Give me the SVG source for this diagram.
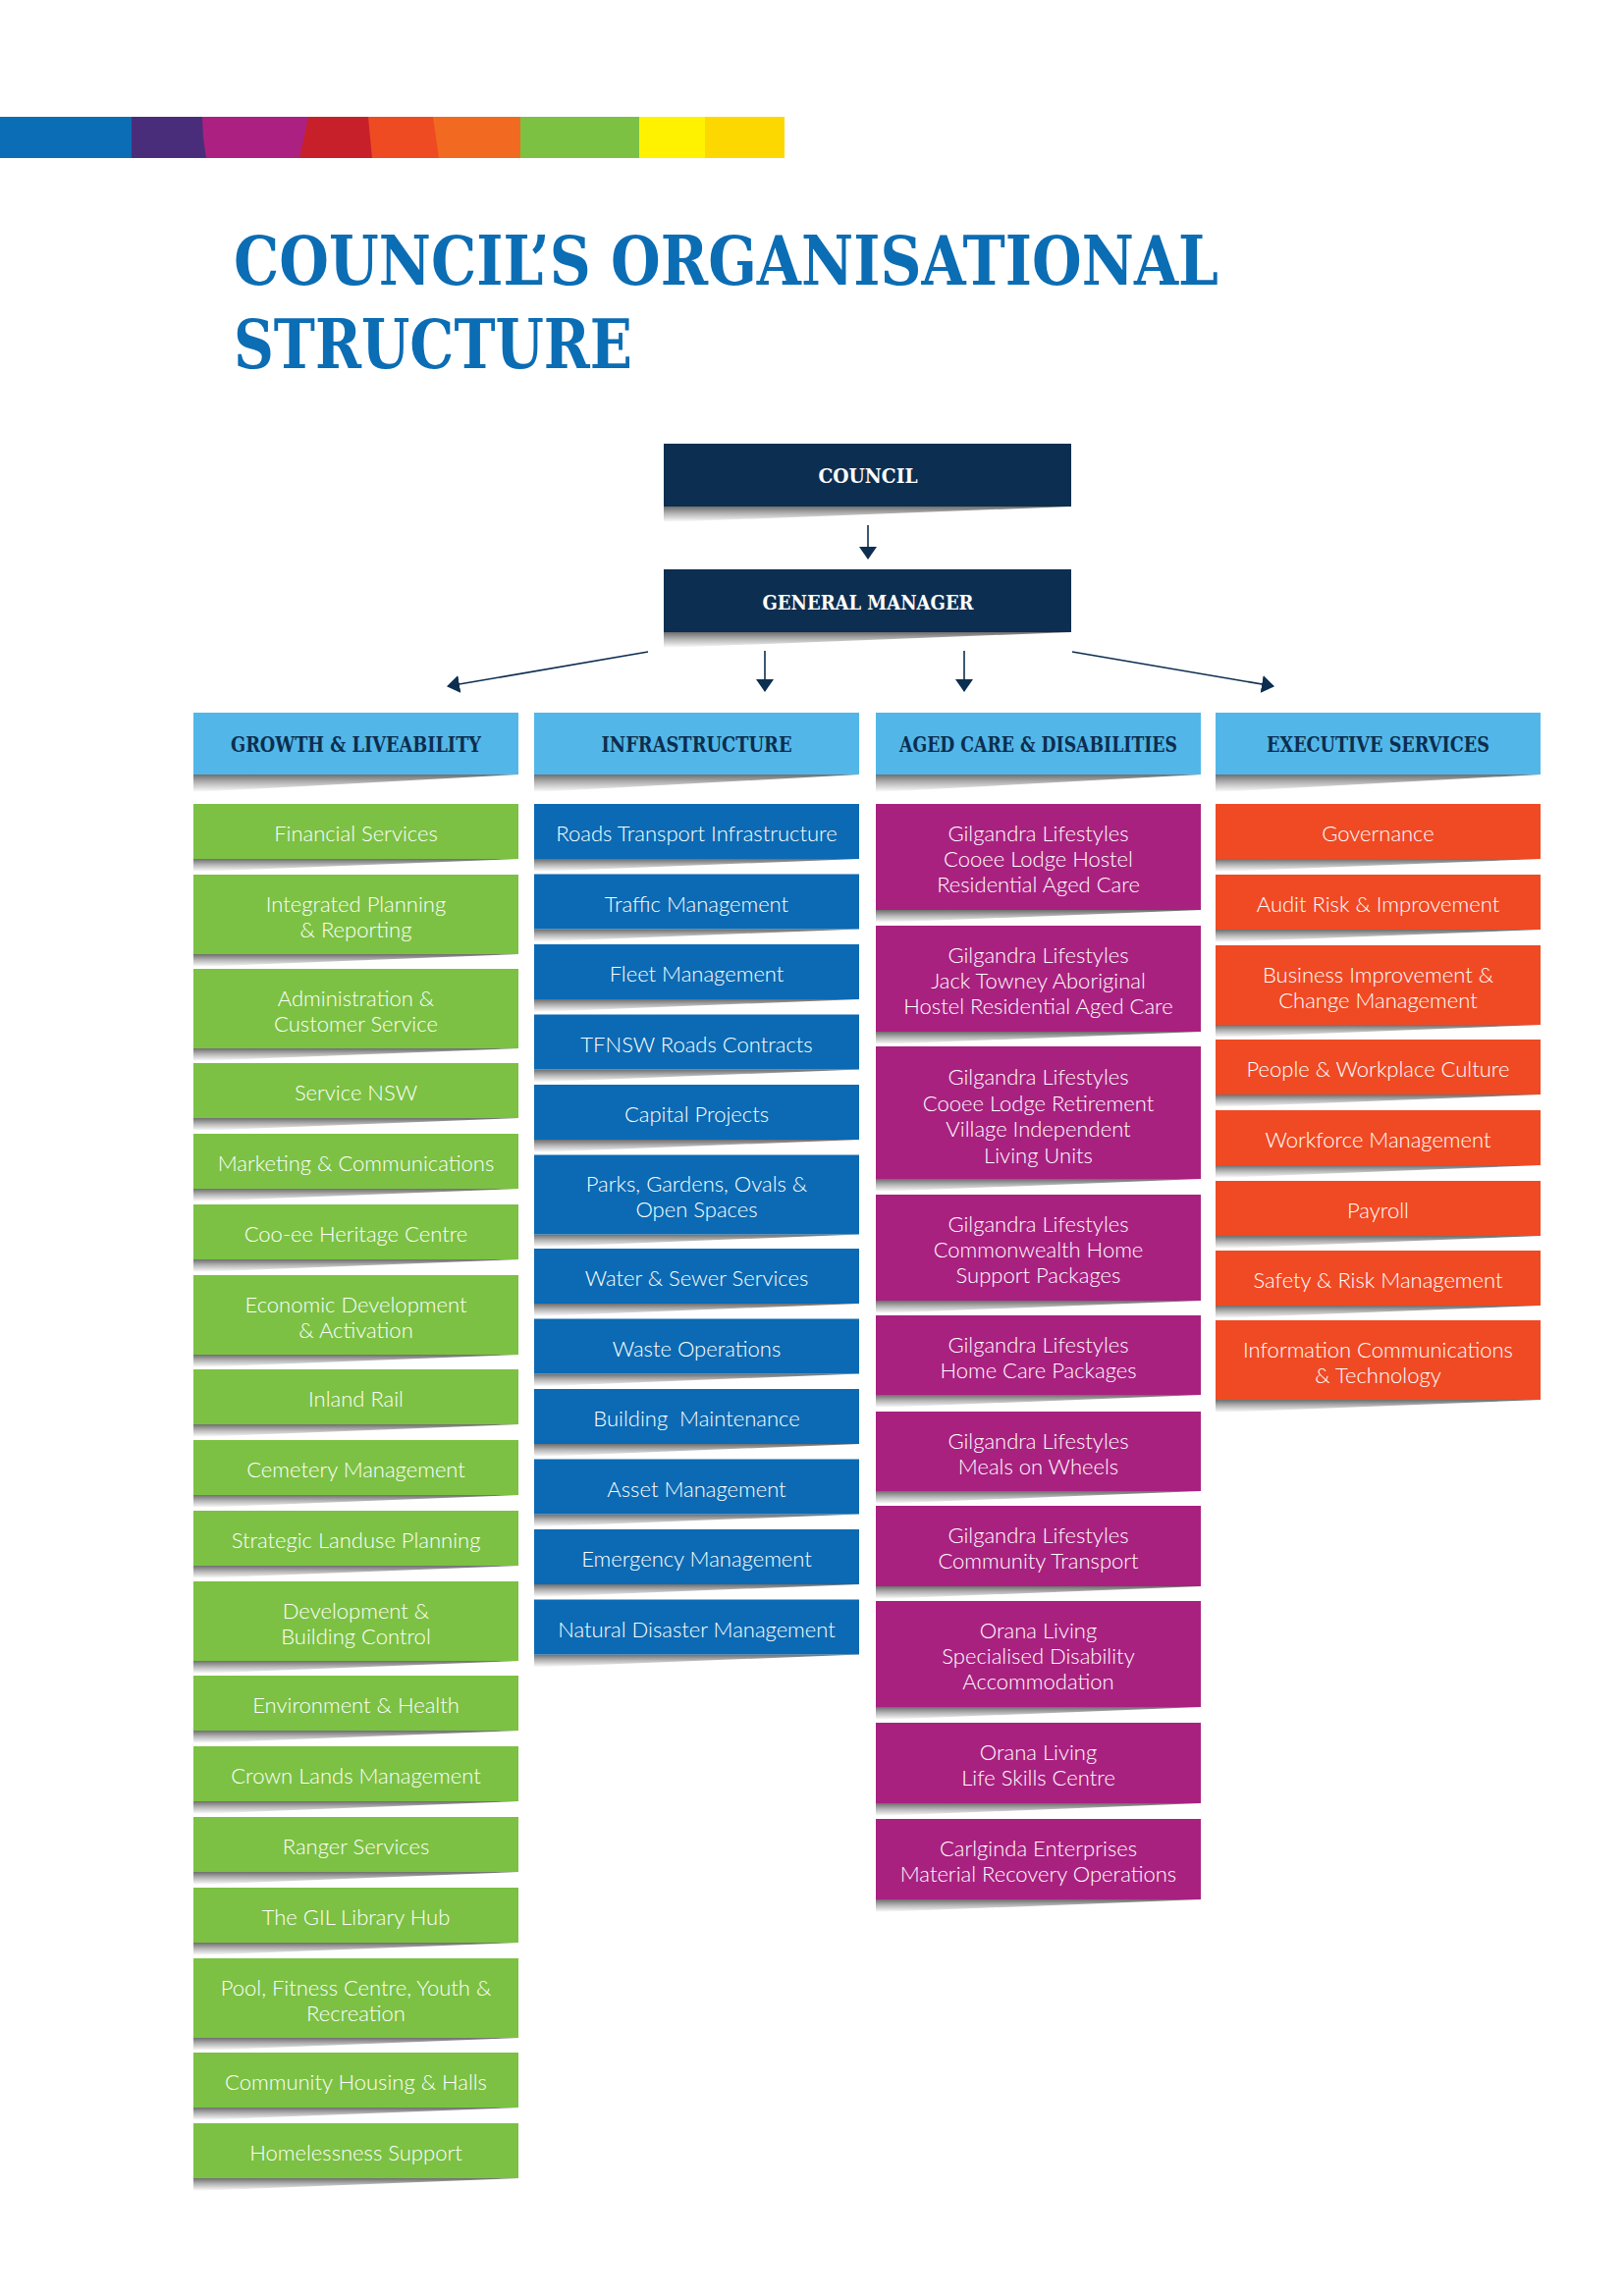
<svg xmlns="http://www.w3.org/2000/svg" width="1654" height="2339" viewBox="0 0 1654 2339">
<defs>
<linearGradient id="sh" x1="0" y1="0" x2="0" y2="1">
<stop offset="0" stop-color="#6e6e6e"/>
<stop offset="0.45" stop-color="#b5b5b5"/>
<stop offset="1" stop-color="#ffffff"/>
</linearGradient>
<marker id="ah" viewBox="0 0 13 18" refX="12" refY="9" markerWidth="13" markerHeight="18" markerUnits="userSpaceOnUse" orient="auto">
<path d="M0,0 L13,9 L0,18 Z" fill="#0c2e50"/>
</marker>
<style>
.g{fill:#7cc143}.b{fill:#0b6ab3}.m{fill:#a9217f}.o{fill:#ef4a24}.h{fill:#52b7e8}.n{fill:#0c2e50}
.s{fill:url(#sh)}
.t{font-family:Lato,"Open Sans","DejaVu Sans",sans-serif;font-weight:300;font-size:22px;fill:#ffffff;text-anchor:middle}
.ht{font-family:"DejaVu Serif","Liberation Serif",serif;font-weight:bold;font-size:23px;fill:#0c2e50;text-anchor:middle}
.nt{font-family:"DejaVu Serif","Liberation Serif",serif;font-weight:bold;font-size:21px;fill:#ffffff;text-anchor:middle}
.ttl{font-family:"DejaVu Serif","Liberation Serif",serif;font-weight:bold;font-size:70px;fill:#0b6db4}
.c{stroke:#0c2e50;stroke-width:1.6;fill:none;marker-end:url(#ah)}
</style>
</defs>
<rect width="1654" height="2339" fill="#ffffff"/>

<g id="colour-bar">
<rect x="0" y="119" width="136" height="42" fill="#0a6db5"/>
<polygon points="134,119 212,119 208,140 211,161 134,161" fill="#4a2d7a"/>
<polygon points="206,119 316,119 306,161 210,161 207,140" fill="#ac2082"/>
<polygon points="314,119 377,119 380,161 305,161" fill="#c8202a"/>
<polygon points="375,119 443,119 448,161 379,161" fill="#ee4b23"/>
<polygon points="441,119 531,119 530,161 447,161" fill="#f26a21"/>
<rect x="530" y="119" width="122" height="42" fill="#7dc142"/>
<rect x="651" y="119" width="68" height="42" fill="#fff200"/>
<rect x="718" y="119" width="81" height="42" fill="#fcd800"/>
</g>

<g id="title">
<text class="ttl" x="238" y="290" textLength="1003" lengthAdjust="spacingAndGlyphs">COUNCIL’S ORGANISATIONAL</text>
<text class="ttl" x="238" y="375" textLength="406" lengthAdjust="spacingAndGlyphs">STRUCTURE</text>
</g>

<g id="connectors">
<line class="c" x1="884" y1="535" x2="884" y2="569"/>
<line class="c" x1="779" y1="663" x2="779" y2="704"/>
<line class="c" x1="982" y1="663" x2="982" y2="704"/>
<line class="c" x1="660" y1="664" x2="456" y2="699"/>
<line class="c" x1="1092" y1="664" x2="1297" y2="699"/>
</g>

<g id="council">
<polygon class="s" points="676,516 1091,516 676,532"/>
<rect class="n" x="676" y="452" width="415" height="64"/>
<text class="nt" x="884" y="492" textLength="101" lengthAdjust="spacingAndGlyphs">COUNCIL</text>
</g>
<g id="general-manager">
<polygon class="s" points="676,644 1091,644 676,660"/>
<rect class="n" x="676" y="580" width="415" height="64"/>
<text class="nt" x="884" y="621" textLength="215" lengthAdjust="spacingAndGlyphs">GENERAL MANAGER</text>
</g>

<g id="hdr-growth">
<polygon class="s" points="197,789 528,789 197,807"/>
<rect class="h" x="197" y="726" width="331" height="63"/>
<text class="ht" x="362.5" y="766" textLength="255" lengthAdjust="spacingAndGlyphs">GROWTH &amp; LIVEABILITY</text>
</g>
<g id="hdr-infrastructure">
<polygon class="s" points="544,789 875,789 544,807"/>
<rect class="h" x="544" y="726" width="331" height="63"/>
<text class="ht" x="709.5" y="766" textLength="194" lengthAdjust="spacingAndGlyphs">INFRASTRUCTURE</text>
</g>
<g id="hdr-aged-care">
<polygon class="s" points="892,789 1223,789 892,807"/>
<rect class="h" x="892" y="726" width="331" height="63"/>
<text class="ht" x="1057.5" y="766" textLength="283" lengthAdjust="spacingAndGlyphs">AGED CARE &amp; DISABILITIES</text>
</g>
<g id="hdr-executive">
<polygon class="s" points="1238,789 1569,789 1238,807"/>
<rect class="h" x="1238" y="726" width="331" height="63"/>
<text class="ht" x="1403.5" y="766" textLength="227" lengthAdjust="spacingAndGlyphs">EXECUTIVE SERVICES</text>
</g>

<!-- Column 1: Growth & Liveability -->
<g id="g1"><polygon class="s" points="197,875 528,875 197,888"/><rect class="g" x="197" y="819" width="331" height="56"/><text class="t" x="362.5" y="857">Financial Services</text></g>
<g id="g2"><polygon class="s" points="197,972 528,972 197,985"/><rect class="g" x="197" y="891" width="331" height="81"/><text class="t" x="362.5" y="928.5"><tspan x="362.5">Integrated Planning</tspan><tspan x="362.5" dy="26">&amp; Reporting</tspan></text></g>
<g id="g3"><polygon class="s" points="197,1068 528,1068 197,1081"/><rect class="g" x="197" y="987" width="331" height="81"/><text class="t" x="362.5" y="1024.5"><tspan x="362.5">Administration &amp;</tspan><tspan x="362.5" dy="26">Customer Service</tspan></text></g>
<g id="g4"><polygon class="s" points="197,1139 528,1139 197,1152"/><rect class="g" x="197" y="1083" width="331" height="56"/><text class="t" x="362.5" y="1121">Service NSW</text></g>
<g id="g5"><polygon class="s" points="197,1211 528,1211 197,1224"/><rect class="g" x="197" y="1155" width="331" height="56"/><text class="t" x="362.5" y="1193">Marketing &amp; Communications</text></g>
<g id="g6"><polygon class="s" points="197,1283 528,1283 197,1296"/><rect class="g" x="197" y="1227" width="331" height="56"/><text class="t" x="362.5" y="1265">Coo-ee Heritage Centre</text></g>
<g id="g7"><polygon class="s" points="197,1380 528,1380 197,1393"/><rect class="g" x="197" y="1299" width="331" height="81"/><text class="t" x="362.5" y="1336.5"><tspan x="362.5">Economic Development</tspan><tspan x="362.5" dy="26">&amp; Activation</tspan></text></g>
<g id="g8"><polygon class="s" points="197,1451 528,1451 197,1464"/><rect class="g" x="197" y="1395" width="331" height="56"/><text class="t" x="362.5" y="1433">Inland Rail</text></g>
<g id="g9"><polygon class="s" points="197,1523 528,1523 197,1536"/><rect class="g" x="197" y="1467" width="331" height="56"/><text class="t" x="362.5" y="1505">Cemetery Management</text></g>
<g id="g10"><polygon class="s" points="197,1595 528,1595 197,1608"/><rect class="g" x="197" y="1539" width="331" height="56"/><text class="t" x="362.5" y="1577">Strategic Landuse Planning</text></g>
<g id="g11"><polygon class="s" points="197,1692 528,1692 197,1705"/><rect class="g" x="197" y="1611" width="331" height="81"/><text class="t" x="362.5" y="1648.5"><tspan x="362.5">Development &amp;</tspan><tspan x="362.5" dy="26">Building Control</tspan></text></g>
<g id="g12"><polygon class="s" points="197,1763 528,1763 197,1776"/><rect class="g" x="197" y="1707" width="331" height="56"/><text class="t" x="362.5" y="1745">Environment &amp; Health</text></g>
<g id="g13"><polygon class="s" points="197,1835 528,1835 197,1848"/><rect class="g" x="197" y="1779" width="331" height="56"/><text class="t" x="362.5" y="1817">Crown Lands Management</text></g>
<g id="g14"><polygon class="s" points="197,1907 528,1907 197,1920"/><rect class="g" x="197" y="1851" width="331" height="56"/><text class="t" x="362.5" y="1889">Ranger Services</text></g>
<g id="g15"><polygon class="s" points="197,1979 528,1979 197,1992"/><rect class="g" x="197" y="1923" width="331" height="56"/><text class="t" x="362.5" y="1961">The GIL Library Hub</text></g>
<g id="g16"><polygon class="s" points="197,2076 528,2076 197,2089"/><rect class="g" x="197" y="1995" width="331" height="81"/><text class="t" x="362.5" y="2032.5"><tspan x="362.5">Pool, Fitness Centre, Youth &amp;</tspan><tspan x="362.5" dy="26">Recreation</tspan></text></g>
<g id="g17"><polygon class="s" points="197,2147 528,2147 197,2160"/><rect class="g" x="197" y="2091" width="331" height="56"/><text class="t" x="362.5" y="2129">Community Housing &amp; Halls</text></g>
<g id="g18"><polygon class="s" points="197,2219 528,2219 197,2232"/><rect class="g" x="197" y="2163" width="331" height="56"/><text class="t" x="362.5" y="2201">Homelessness Support</text></g>

<!-- Column 2: Infrastructure -->
<g id="i1"><polygon class="s" points="544,875 875,875 544,888"/><rect class="b" x="544" y="819" width="331" height="56"/><text class="t" x="709.5" y="857">Roads Transport Infrastructure</text></g>
<g id="i2"><polygon class="s" points="544,946.5 875,946.5 544,959.5"/><rect class="b" x="544" y="890.5" width="331" height="56"/><text class="t" x="709.5" y="928.5">Traffic Management</text></g>
<g id="i3"><polygon class="s" points="544,1018 875,1018 544,1031"/><rect class="b" x="544" y="962" width="331" height="56"/><text class="t" x="709.5" y="1000">Fleet Management</text></g>
<g id="i4"><polygon class="s" points="544,1089.5 875,1089.5 544,1102.5"/><rect class="b" x="544" y="1033.5" width="331" height="56"/><text class="t" x="709.5" y="1071.5">TFNSW Roads Contracts</text></g>
<g id="i5"><polygon class="s" points="544,1161 875,1161 544,1174"/><rect class="b" x="544" y="1105" width="331" height="56"/><text class="t" x="709.5" y="1143">Capital Projects</text></g>
<g id="i6"><polygon class="s" points="544,1257.5 875,1257.5 544,1270.5"/><rect class="b" x="544" y="1176.5" width="331" height="81"/><text class="t" x="709.5" y="1214"><tspan x="709.5">Parks, Gardens, Ovals &amp;</tspan><tspan x="709.5" dy="26">Open Spaces</tspan></text></g>
<g id="i7"><polygon class="s" points="544,1328 875,1328 544,1341"/><rect class="b" x="544" y="1272" width="331" height="56"/><text class="t" x="709.5" y="1310">Water &amp; Sewer Services</text></g>
<g id="i8"><polygon class="s" points="544,1399.5 875,1399.5 544,1412.5"/><rect class="b" x="544" y="1343.5" width="331" height="56"/><text class="t" x="709.5" y="1381.5">Waste Operations</text></g>
<g id="i9"><polygon class="s" points="544,1471 875,1471 544,1484"/><rect class="b" x="544" y="1415" width="331" height="56"/><text class="t" x="709.5" y="1453">Building&#160; Maintenance</text></g>
<g id="i10"><polygon class="s" points="544,1542.5 875,1542.5 544,1555.5"/><rect class="b" x="544" y="1486.5" width="331" height="56"/><text class="t" x="709.5" y="1524.5">Asset Management</text></g>
<g id="i11"><polygon class="s" points="544,1614 875,1614 544,1627"/><rect class="b" x="544" y="1558" width="331" height="56"/><text class="t" x="709.5" y="1596">Emergency Management</text></g>
<g id="i12"><polygon class="s" points="544,1685.5 875,1685.5 544,1698.5"/><rect class="b" x="544" y="1629.5" width="331" height="56"/><text class="t" x="709.5" y="1667.5">Natural Disaster Management</text></g>

<!-- Column 3: Aged Care & Disabilities -->
<g id="a1"><polygon class="s" points="892,927 1223,927 892,940"/><rect class="m" x="892" y="819" width="331" height="108"/><text class="t" x="1057.5" y="857"><tspan x="1057.5">Gilgandra Lifestyles</tspan><tspan x="1057.5" dy="26">Cooee Lodge Hostel</tspan><tspan x="1057.5" dy="26">Residential Aged Care</tspan></text></g>
<g id="a2"><polygon class="s" points="892,1051 1223,1051 892,1064"/><rect class="m" x="892" y="943" width="331" height="108"/><text class="t" x="1057.5" y="981"><tspan x="1057.5">Gilgandra Lifestyles</tspan><tspan x="1057.5" dy="26">Jack Towney Aboriginal</tspan><tspan x="1057.5" dy="26">Hostel Residential Aged Care</tspan></text></g>
<g id="a3"><polygon class="s" points="892,1201 1223,1201 892,1214"/><rect class="m" x="892" y="1066" width="331" height="135"/><text class="t" x="1057.5" y="1105"><tspan x="1057.5">Gilgandra Lifestyles</tspan><tspan x="1057.5" dy="26.5">Cooee Lodge Retirement</tspan><tspan x="1057.5" dy="26.5">Village Independent</tspan><tspan x="1057.5" dy="26.5">Living Units</tspan></text></g>
<g id="a4"><polygon class="s" points="892,1325 1223,1325 892,1338"/><rect class="m" x="892" y="1217" width="331" height="108"/><text class="t" x="1057.5" y="1255"><tspan x="1057.5">Gilgandra Lifestyles</tspan><tspan x="1057.5" dy="26">Commonwealth Home</tspan><tspan x="1057.5" dy="26">Support Packages</tspan></text></g>
<g id="a5"><polygon class="s" points="892,1421 1223,1421 892,1434"/><rect class="m" x="892" y="1340" width="331" height="81"/><text class="t" x="1057.5" y="1377.5"><tspan x="1057.5">Gilgandra Lifestyles</tspan><tspan x="1057.5" dy="26">Home Care Packages</tspan></text></g>
<g id="a6"><polygon class="s" points="892,1519 1223,1519 892,1532"/><rect class="m" x="892" y="1438" width="331" height="81"/><text class="t" x="1057.5" y="1475.5"><tspan x="1057.5">Gilgandra Lifestyles</tspan><tspan x="1057.5" dy="26">Meals on Wheels</tspan></text></g>
<g id="a7"><polygon class="s" points="892,1616 1223,1616 892,1629"/><rect class="m" x="892" y="1534" width="331" height="82"/><text class="t" x="1057.5" y="1571.5"><tspan x="1057.5">Gilgandra Lifestyles</tspan><tspan x="1057.5" dy="26">Community Transport</tspan></text></g>
<g id="a8"><polygon class="s" points="892,1739 1223,1739 892,1752"/><rect class="m" x="892" y="1631" width="331" height="108"/><text class="t" x="1057.5" y="1669"><tspan x="1057.5">Orana Living</tspan><tspan x="1057.5" dy="26">Specialised Disability</tspan><tspan x="1057.5" dy="26">Accommodation</tspan></text></g>
<g id="a9"><polygon class="s" points="892,1837 1223,1837 892,1850"/><rect class="m" x="892" y="1755" width="331" height="82"/><text class="t" x="1057.5" y="1792.5"><tspan x="1057.5">Orana Living</tspan><tspan x="1057.5" dy="26">Life Skills Centre</tspan></text></g>
<g id="a10"><polygon class="s" points="892,1935 1223,1935 892,1948"/><rect class="m" x="892" y="1853" width="331" height="82"/><text class="t" x="1057.5" y="1890.5"><tspan x="1057.5">Carlginda Enterprises</tspan><tspan x="1057.5" dy="26">Material Recovery Operations</tspan></text></g>

<!-- Column 4: Executive Services -->
<g id="e1"><polygon class="s" points="1238,875 1569,875 1238,888"/><rect class="o" x="1238" y="819" width="331" height="56"/><text class="t" x="1403.5" y="857">Governance</text></g>
<g id="e2"><polygon class="s" points="1238,947 1569,947 1238,960"/><rect class="o" x="1238" y="891" width="331" height="56"/><text class="t" x="1403.5" y="929">Audit Risk &amp; Improvement</text></g>
<g id="e3"><polygon class="s" points="1238,1044 1569,1044 1238,1057"/><rect class="o" x="1238" y="963" width="331" height="81"/><text class="t" x="1403.5" y="1000.5"><tspan x="1403.5">Business Improvement &amp;</tspan><tspan x="1403.5" dy="26">Change Management</tspan></text></g>
<g id="e4"><polygon class="s" points="1238,1115 1569,1115 1238,1128"/><rect class="o" x="1238" y="1059" width="331" height="56"/><text class="t" x="1403.5" y="1097">People &amp; Workplace Culture</text></g>
<g id="e5"><polygon class="s" points="1238,1187 1569,1187 1238,1200"/><rect class="o" x="1238" y="1131" width="331" height="56"/><text class="t" x="1403.5" y="1169">Workforce Management</text></g>
<g id="e6"><polygon class="s" points="1238,1259 1569,1259 1238,1272"/><rect class="o" x="1238" y="1203" width="331" height="56"/><text class="t" x="1403.5" y="1241">Payroll</text></g>
<g id="e7"><polygon class="s" points="1238,1330 1569,1330 1238,1343"/><rect class="o" x="1238" y="1274" width="331" height="56"/><text class="t" x="1403.5" y="1312">Safety &amp; Risk Management</text></g>
<g id="e8"><polygon class="s" points="1238,1426 1569,1426 1238,1439"/><rect class="o" x="1238" y="1345" width="331" height="81"/><text class="t" x="1403.5" y="1382.5"><tspan x="1403.5">Information Communications</tspan><tspan x="1403.5" dy="26">&amp; Technology</tspan></text></g>
</svg>
